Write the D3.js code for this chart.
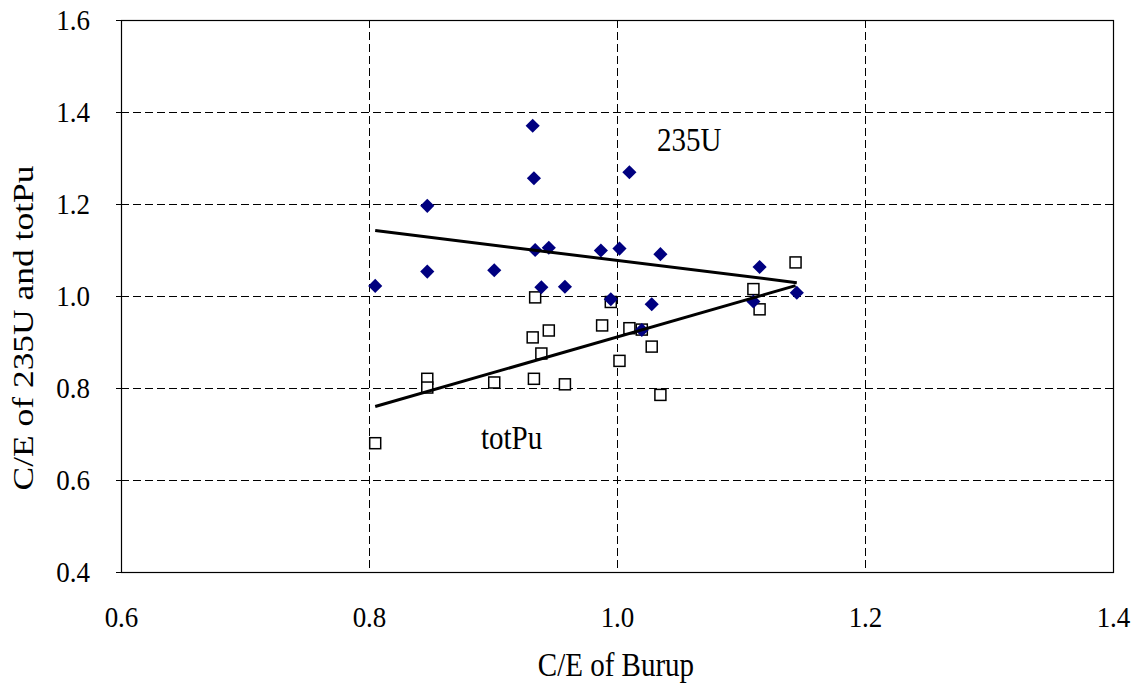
<!DOCTYPE html>
<html>
<head>
<meta charset="utf-8">
<script src="https://cdn.jsdelivr.net/npm/d3@7"></script>
<style>
  html, body { margin: 0; padding: 0; background: #fff; }
  svg { display: block; }
  text { font-family: "Liberation Serif", "Times New Roman", serif; fill: #000; }
  /* text is set slightly taller than wide */
  .tall { transform-box: fill-box; transform-origin: 50% 50%; transform: scaleY(1.13); }
</style>
</head>
<body>
<svg id="chart" width="1137" height="683"></svg>
<script>
// C/E of burnup (x) against C/E of 235U and total Pu (y), one point per sample
const burnupU = [0.805, 0.847, 0.847, 0.901, 0.932, 0.933, 0.934, 0.945, 0.939, 0.958,
                 0.987, 0.995, 1.002, 1.010, 1.020, 1.028, 1.035, 1.110, 1.115, 1.145];
const ceU235  = [1.022, 1.196, 1.053, 1.056, 1.370, 1.256, 1.100, 1.105, 1.019, 1.020,
                 1.099, 0.993, 1.103, 1.269, 0.926, 0.982, 1.091, 0.988, 1.063, 1.007];

const burnupPu = [0.805, 0.847, 0.847, 0.901, 0.932, 0.933, 0.934, 0.945, 0.939, 0.958,
                  0.988, 0.995, 1.002, 1.010, 1.020, 1.028, 1.035, 1.110, 1.115, 1.144];
const ceTotPu  = [0.680, 0.820, 0.801, 0.812, 0.910, 0.820, 0.997, 0.925, 0.875, 0.808,
                  0.936, 0.987, 0.859, 0.930, 0.927, 0.890, 0.785, 1.015, 0.971, 1.073];

const xTicks = [0.6, 0.8, 1.0, 1.2, 1.4];
const yTicks = [0.4, 0.6, 0.8, 1.0, 1.2, 1.4, 1.6];

const svg = d3.select("#chart");
const plotL = 121, plotR = 1113, plotT = 20, plotB = 572;

const x = d3.scaleLinear().domain([0.6, 1.4]).range([plotL, plotR]);
const y = d3.scaleLinear().domain([0.4, 1.6]).range([plotB, plotT]);

// dashed grid
const grid = svg.append("g").attr("stroke", "#000").attr("stroke-width", 1)
  .attr("stroke-dasharray", "8,4").attr("shape-rendering", "crispEdges");
grid.selectAll("line.gx").data(xTicks.slice(1, -1)).join("line")
  .attr("x1", d => Math.round(x(d)) + 0.5).attr("x2", d => Math.round(x(d)) + 0.5)
  .attr("y1", plotT).attr("y2", plotB);
grid.selectAll("line.gy").data(yTicks.slice(1, -1)).join("line")
  .attr("x1", plotL).attr("x2", plotR)
  .attr("y1", d => Math.round(y(d)) + 0.5).attr("y2", d => Math.round(y(d)) + 0.5);

// plot frame
svg.append("rect").attr("x", plotL + 0.5).attr("y", plotT + 0.5)
  .attr("width", plotR - plotL).attr("height", plotB - plotT)
  .attr("fill", "none").attr("stroke", "#000").attr("stroke-width", 1.2);

// axes
const xAxis = svg.append("g").attr("transform", `translate(0,${plotB})`)
  .call(d3.axisBottom(x).tickValues(xTicks).tickFormat(d3.format(".1f")).tickSize(0).tickPadding(35));
const yAxis = svg.append("g").attr("transform", `translate(${plotL},0)`)
  .call(d3.axisLeft(y).tickValues(yTicks).tickFormat(d3.format(".1f")).tickSize(5).tickPadding(26));
[xAxis, yAxis].forEach(a => {
  a.select(".domain").remove();
  a.selectAll(".tick line").attr("stroke", "#000");
  a.selectAll(".tick text").attr("font-size", 27).attr("class", "tall")
    .attr("font-family", "'Liberation Serif', 'Times New Roman', serif");
});

// least-squares trend line over the x range of a series
function trend(xs, ys) {
  const mx = d3.mean(xs), my = d3.mean(ys);
  let sxy = 0, sxx = 0;
  xs.forEach((v, i) => { sxy += (v - mx) * (ys[i] - my); sxx += (v - mx) * (v - mx); });
  const b = sxy / sxx, a = my - b * mx;
  const x0 = d3.min(xs), x1 = d3.max(xs);
  return [[x0, a + b * x0], [x1, a + b * x1]];
}

const line = d3.line().x(d => x(d[0])).y(d => y(d[1]));

// totPu markers: open squares
const sq = 11;
svg.append("g").selectAll("rect").data(d3.zip(burnupPu, ceTotPu)).join("rect")
  .attr("x", d => x(d[0]) - sq / 2).attr("y", d => y(d[1]) - sq / 2)
  .attr("width", sq).attr("height", sq)
  .attr("fill", "#fff").attr("stroke", "#000").attr("stroke-width", 1.5);

// 235U markers: navy diamonds
svg.append("g").selectAll("path").data(d3.zip(burnupU, ceU235)).join("path")
  .attr("d", d3.symbol().type(d3.symbolSquare).size(100))
  .attr("transform", d => `translate(${x(d[0])},${y(d[1])}) rotate(45)`)
  .attr("fill", "#000080");

// trend lines
svg.append("path").datum(trend(burnupU, ceU235)).attr("d", line)
  .attr("fill", "none").attr("stroke", "#000").attr("stroke-width", 3);
svg.append("path").datum(trend(burnupPu, ceTotPu)).attr("d", line)
  .attr("fill", "none").attr("stroke", "#000").attr("stroke-width", 3);

// series labels
svg.append("text").attr("class", "tall").attr("x", 657).attr("y", 150).attr("font-size", 29).text("235U");
svg.append("text").attr("class", "tall").attr("x", 481).attr("y", 448).attr("font-size", 29).text("totPu");

// axis titles
svg.append("text").attr("class", "tall").attr("x", 616).attr("y", 675).attr("text-anchor", "middle")
  .attr("font-size", 29).text("C/E of Burup");
svg.append("text").attr("transform", "translate(33,328) rotate(-90)")
  .attr("text-anchor", "middle").attr("font-size", 30)
  .attr("textLength", 325).attr("lengthAdjust", "spacingAndGlyphs")
  .text("C/E of 235U and totPu");
</script>
</body>
</html>
